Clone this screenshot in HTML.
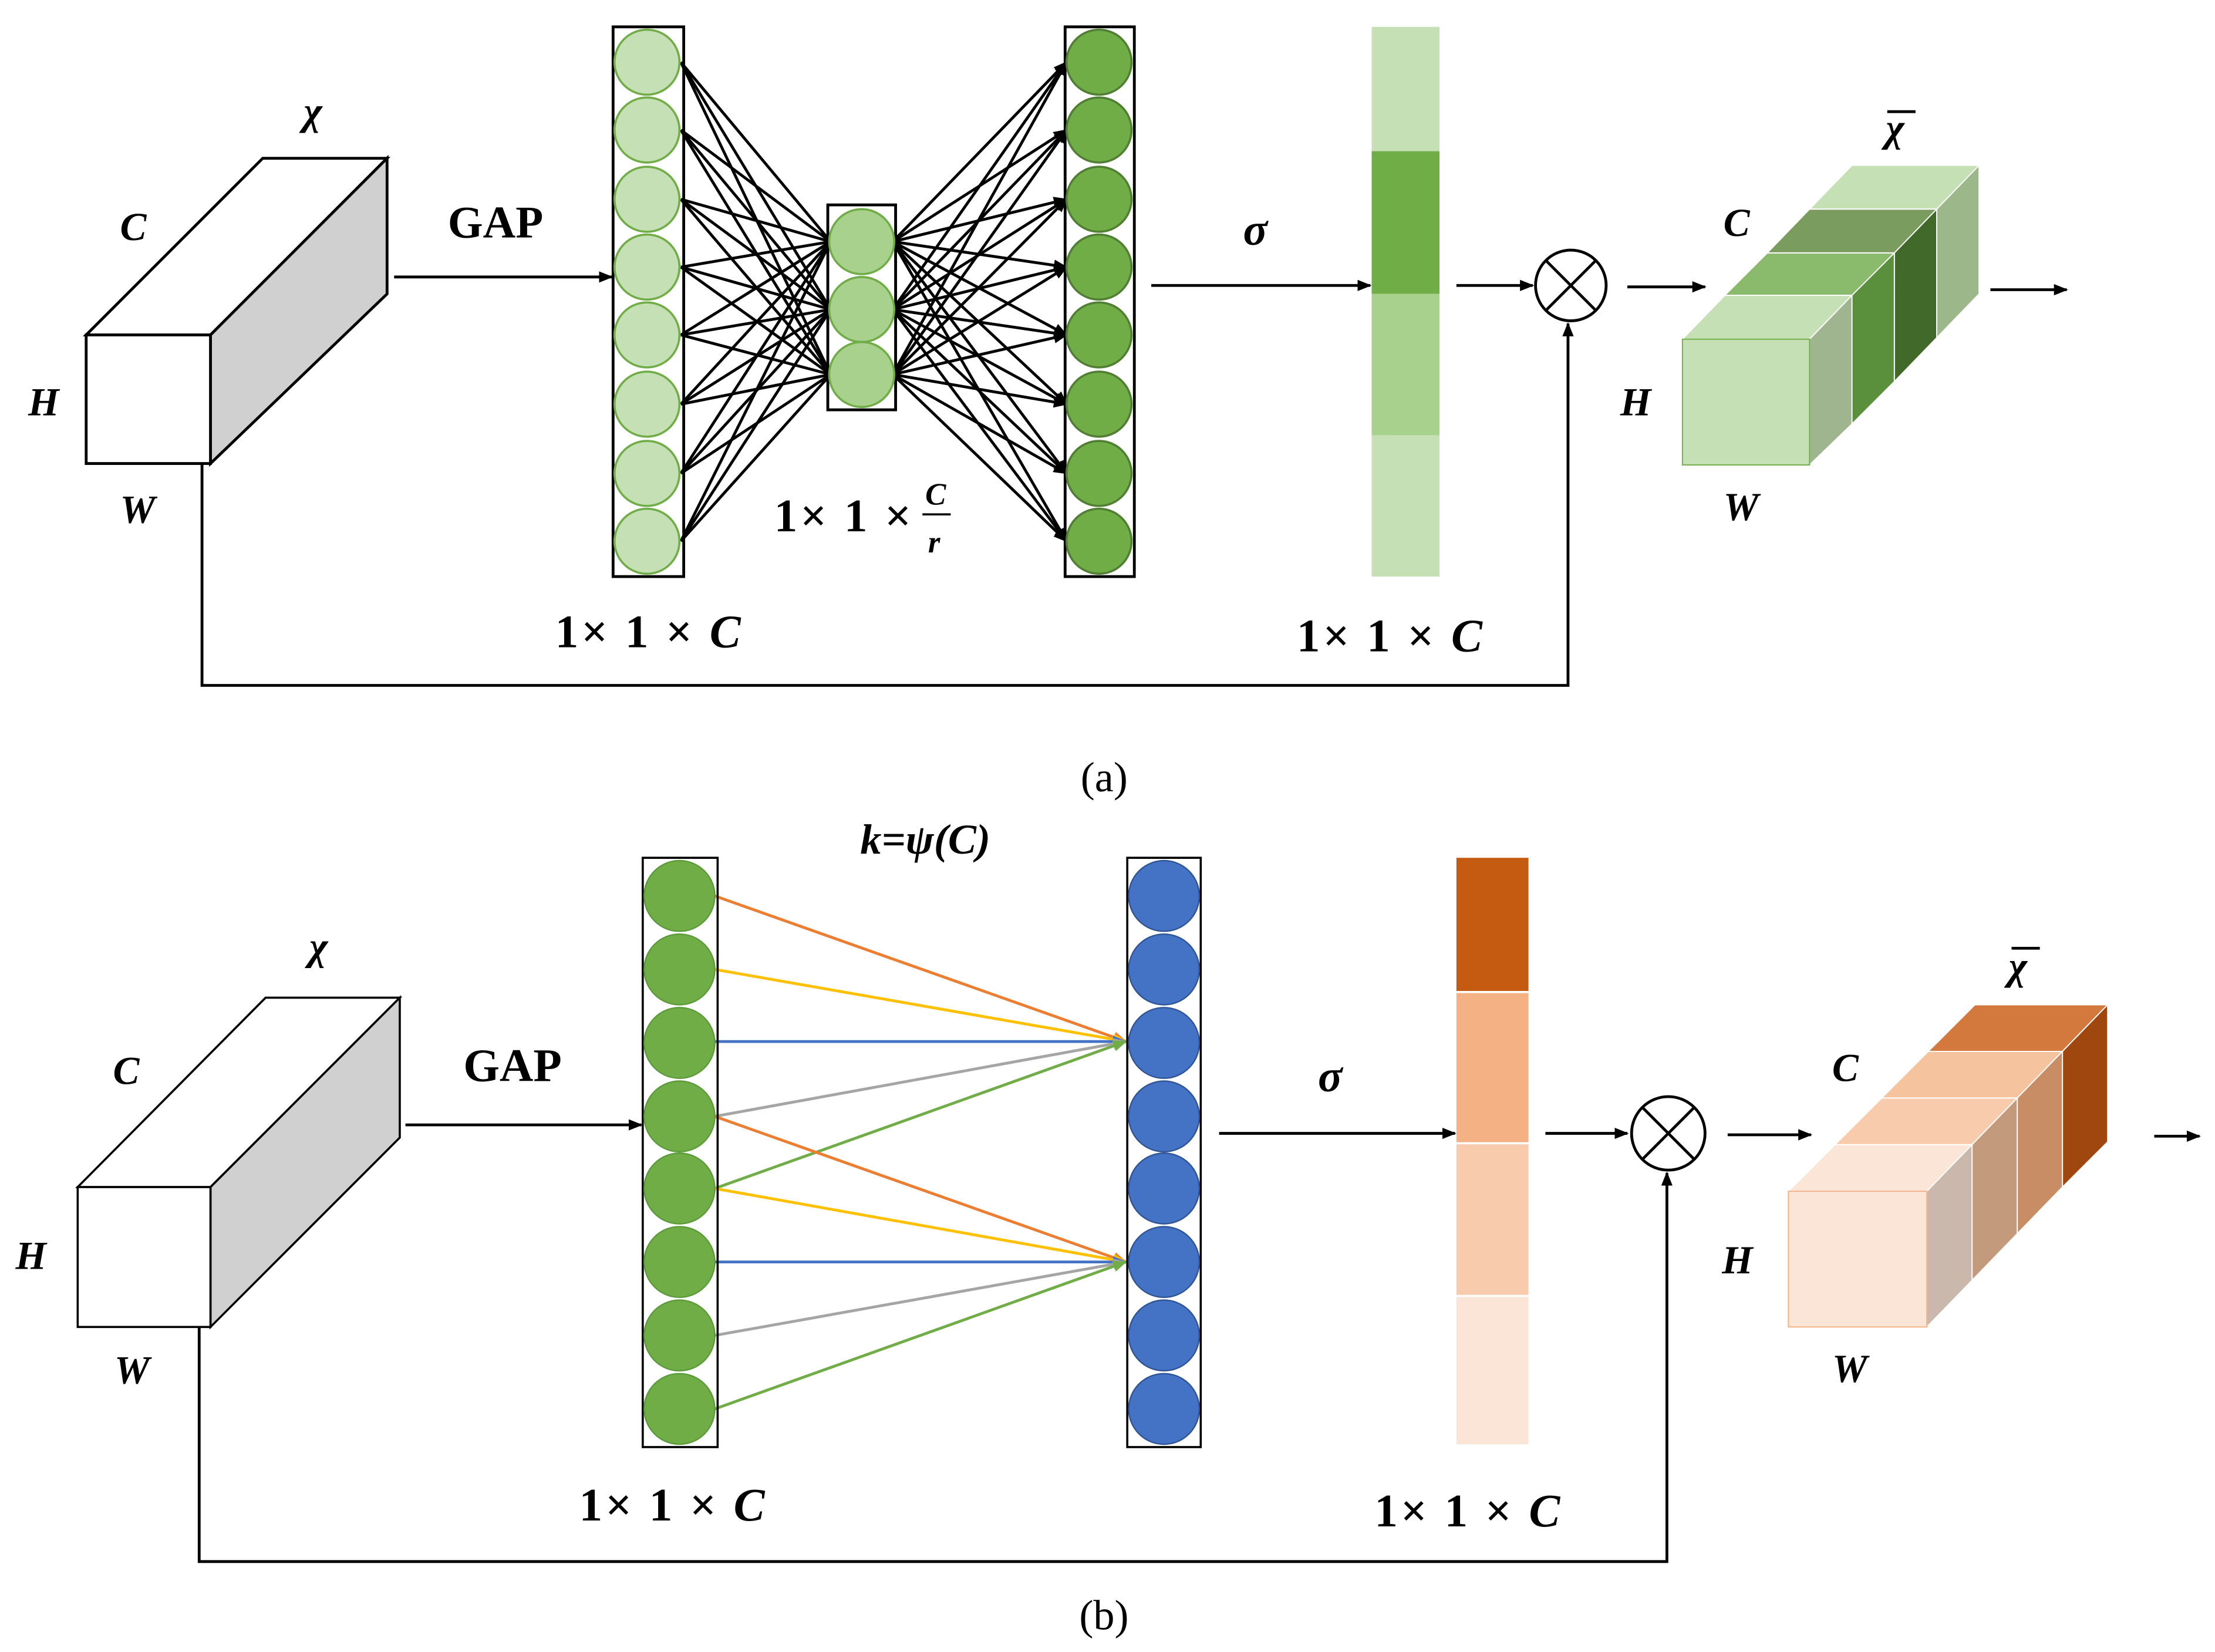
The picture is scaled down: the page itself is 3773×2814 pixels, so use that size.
<!DOCTYPE html>
<html><head><meta charset="utf-8"><style>
html,body{margin:0;padding:0;background:#fff;}
svg{display:block;width:3773px;height:2814px;}
text{font-family:"Liberation Serif",serif;font-weight:bold;fill:#000;}
.it{font-style:italic;}
</style></head><body>
<svg viewBox="0 0 1568 1169" preserveAspectRatio="none" xmlns="http://www.w3.org/2000/svg">
<defs>
<marker id="ah" markerWidth="10" markerHeight="8" refX="9" refY="4" orient="auto" markerUnits="userSpaceOnUse"><path d="M0,0 L10,4 L0,8 z" fill="#000"/></marker>
<marker id="ao" markerWidth="10" markerHeight="8" refX="9" refY="4" orient="auto" markerUnits="userSpaceOnUse"><path d="M0,0 L10,4 L0,8 z" fill="#ed7d31"/></marker>
<marker id="ay" markerWidth="10" markerHeight="8" refX="9" refY="4" orient="auto" markerUnits="userSpaceOnUse"><path d="M0,0 L10,4 L0,8 z" fill="#ffc000"/></marker>
<marker id="ab" markerWidth="10" markerHeight="8" refX="9" refY="4" orient="auto" markerUnits="userSpaceOnUse"><path d="M0,0 L10,4 L0,8 z" fill="#4472c4"/></marker>
<marker id="ag" markerWidth="10" markerHeight="8" refX="9" refY="4" orient="auto" markerUnits="userSpaceOnUse"><path d="M0,0 L10,4 L0,8 z" fill="#a5a5a5"/></marker>
<marker id="agr" markerWidth="10" markerHeight="8" refX="9" refY="4" orient="auto" markerUnits="userSpaceOnUse"><path d="M0,0 L10,4 L0,8 z" fill="#70ad47"/></marker>
</defs>

<!-- ===== (a) ===== -->
<g stroke="#000" stroke-width="2">
<polygon points="61,237 186,112 274,112 149,237" fill="#fff"/>
<polygon points="149,237 274,112 274,208 149,328" fill="#d0d0d0"/>
<rect x="61" y="237" width="88" height="91" fill="#fff"/>
</g>
<text x="215" y="88" font-size="28" class="it">χ</text>
<text x="85" y="170" font-size="28" class="it">C</text>
<text x="20" y="294" font-size="28" class="it">H</text>
<text x="85" y="370" font-size="28" class="it">W</text>
<text x="317" y="168" font-size="32">GAP</text>
<line x1="279" y1="196" x2="433" y2="196" stroke="#000" stroke-width="2" marker-end="url(#ah)"/>

<g stroke="#000" stroke-width="2">
<g>
<line x1="482" y1="44" x2="588" y2="171"/><line x1="482" y1="44" x2="588" y2="219"/><line x1="482" y1="44" x2="588" y2="265"/>
<line x1="482" y1="92" x2="588" y2="171"/><line x1="482" y1="92" x2="588" y2="219"/><line x1="482" y1="92" x2="588" y2="265"/>
<line x1="482" y1="141" x2="588" y2="171"/><line x1="482" y1="141" x2="588" y2="219"/><line x1="482" y1="141" x2="588" y2="265"/>
<line x1="482" y1="189" x2="588" y2="171"/><line x1="482" y1="189" x2="588" y2="219"/><line x1="482" y1="189" x2="588" y2="265"/>
<line x1="482" y1="237" x2="588" y2="171"/><line x1="482" y1="237" x2="588" y2="219"/><line x1="482" y1="237" x2="588" y2="265"/>
<line x1="482" y1="286" x2="588" y2="171"/><line x1="482" y1="286" x2="588" y2="219"/><line x1="482" y1="286" x2="588" y2="265"/>
<line x1="482" y1="335" x2="588" y2="171"/><line x1="482" y1="335" x2="588" y2="219"/><line x1="482" y1="335" x2="588" y2="265"/>
<line x1="482" y1="383" x2="588" y2="171"/><line x1="482" y1="383" x2="588" y2="219"/><line x1="482" y1="383" x2="588" y2="265"/>
</g>
<g marker-end="url(#ah)">
<line x1="632" y1="171" x2="755" y2="44"/><line x1="632" y1="171" x2="755" y2="92"/><line x1="632" y1="171" x2="755" y2="141"/><line x1="632" y1="171" x2="755" y2="189"/><line x1="632" y1="171" x2="755" y2="237"/><line x1="632" y1="171" x2="755" y2="286"/><line x1="632" y1="171" x2="755" y2="335"/><line x1="632" y1="171" x2="755" y2="383"/>
<line x1="632" y1="219" x2="755" y2="44"/><line x1="632" y1="219" x2="755" y2="92"/><line x1="632" y1="219" x2="755" y2="141"/><line x1="632" y1="219" x2="755" y2="189"/><line x1="632" y1="219" x2="755" y2="237"/><line x1="632" y1="219" x2="755" y2="286"/><line x1="632" y1="219" x2="755" y2="335"/><line x1="632" y1="219" x2="755" y2="383"/>
<line x1="632" y1="265" x2="755" y2="44"/><line x1="632" y1="265" x2="755" y2="92"/><line x1="632" y1="265" x2="755" y2="141"/><line x1="632" y1="265" x2="755" y2="189"/><line x1="632" y1="265" x2="755" y2="237"/><line x1="632" y1="265" x2="755" y2="286"/><line x1="632" y1="265" x2="755" y2="335"/><line x1="632" y1="265" x2="755" y2="383"/>
</g>
</g>
<rect x="434" y="19" width="50" height="389" fill="none" stroke="#000" stroke-width="2"/>
<g fill="#c5e0b4" stroke="#70ad47" stroke-width="1.5">
<circle cx="458" cy="44" r="23"/><circle cx="458" cy="92" r="23"/><circle cx="458" cy="141" r="23"/><circle cx="458" cy="189" r="23"/><circle cx="458" cy="237" r="23"/><circle cx="458" cy="286" r="23"/><circle cx="458" cy="335" r="23"/><circle cx="458" cy="383" r="23"/>
</g>
<rect x="586" y="145" width="48" height="145" fill="none" stroke="#000" stroke-width="2"/>
<g fill="#a9d18e" stroke="#70ad47" stroke-width="1.5">
<circle cx="610" cy="171" r="23"/><circle cx="610" cy="219" r="23"/><circle cx="610" cy="265" r="23"/>
</g>
<rect x="754" y="19" width="49" height="389" fill="none" stroke="#000" stroke-width="2"/>
<g fill="#70ad47" stroke="#507e32" stroke-width="1.5">
<circle cx="778" cy="44" r="23"/><circle cx="778" cy="92" r="23"/><circle cx="778" cy="141" r="23"/><circle cx="778" cy="189" r="23"/><circle cx="778" cy="237" r="23"/><circle cx="778" cy="286" r="23"/><circle cx="778" cy="335" r="23"/><circle cx="778" cy="383" r="23"/>
</g>
<text x="548" y="376" font-size="33" letter-spacing="2">1× 1 ×</text>
<text x="655" y="357" font-size="22" class="it">C</text>
<line x1="653" y1="364" x2="673" y2="364" stroke="#000" stroke-width="1.5"/>
<text x="657" y="391" font-size="22" class="it">r</text>
<text x="393" y="458" font-size="33" letter-spacing="2">1× 1 × <tspan class="it">C</tspan></text>

<text x="880" y="173" font-size="32" class="it">σ</text>
<line x1="815" y1="202" x2="970" y2="202" stroke="#000" stroke-width="2" marker-end="url(#ah)"/>
<rect x="971" y="19" width="48" height="88" fill="#c5e0b4"/>
<rect x="971" y="107" width="48" height="101" fill="#70ad47"/>
<rect x="971" y="208" width="48" height="100" fill="#a9d18e"/>
<rect x="971" y="308" width="48" height="100" fill="#c5e0b4"/>
<text x="918" y="461" font-size="33" letter-spacing="2">1× 1 × <tspan class="it">C</tspan></text>
<line x1="1031" y1="202" x2="1085" y2="202" stroke="#000" stroke-width="2" marker-end="url(#ah)"/>
<g stroke="#000" stroke-width="2" fill="#fff">
<circle cx="1112" cy="202" r="25"/>
<line x1="1094" y1="184" x2="1130" y2="220"/><line x1="1130" y1="184" x2="1094" y2="220"/>
</g>
<line x1="1152" y1="203" x2="1207" y2="203" stroke="#000" stroke-width="2" marker-end="url(#ah)"/>
<line x1="1409" y1="205" x2="1463" y2="205" stroke="#000" stroke-width="2" marker-end="url(#ah)"/>
<polyline points="143,328 143,485 1110,485 1110,229" fill="none" stroke="#000" stroke-width="2" marker-end="url(#ah)"/>

<g stroke="#fff" stroke-width="0.8">
<polygon points="1281,148 1311,117 1401,117 1371,148" fill="#c5e0b4"/>
<polygon points="1371,148 1401,117 1401,208 1371,239" fill="#9cb88a"/>
<polygon points="1251,179 1281,148 1371,148 1341,179" fill="#7a9d5f"/>
<polygon points="1341,179 1371,148 1371,239 1341,270" fill="#41692a"/>
<polygon points="1221,209 1251,179 1341,179 1311,209" fill="#8aba6b"/>
<polygon points="1311,209 1341,179 1341,270 1311,300" fill="#5a8f3c"/>
<polygon points="1191,240 1221,209 1311,209 1281,240" fill="#c5e0b4"/>
<polygon points="1281,240 1311,209 1311,300 1281,329" fill="#9fb58f"/>
<rect x="1191" y="240" width="90" height="89" fill="#c5e0b4" stroke="#70ad47"/>
</g>
<text x="1335" y="100" font-size="28" class="it">χ</text>
<line x1="1336" y1="79" x2="1356" y2="79" stroke="#000" stroke-width="2"/>
<text x="1220" y="167" font-size="28" class="it">C</text>
<text x="1147" y="294" font-size="28" class="it">H</text>
<text x="1220" y="368" font-size="28" class="it">W</text>

<text x="765" y="560" font-size="30" style="font-weight:normal">(a)</text>

<!-- ===== (b) ===== -->
<g stroke="#000" stroke-width="1.5">
<polygon points="55,840 188,706 283,706 149,840" fill="#fff"/>
<polygon points="149,840 283,706 283,805 149,939" fill="#d0d0d0"/>
<rect x="55" y="840" width="94" height="99" fill="#fff"/>
</g>
<text x="219" y="679" font-size="28" class="it">χ</text>
<text x="80" y="767" font-size="28" class="it">C</text>
<text x="11" y="898" font-size="28" class="it">H</text>
<text x="81" y="979" font-size="28" class="it">W</text>
<text x="328" y="765" font-size="33">GAP</text>
<line x1="287" y1="796" x2="454" y2="796" stroke="#000" stroke-width="2" marker-end="url(#ah)"/>

<g stroke-width="2">
<line x1="506" y1="634" x2="797" y2="737" stroke="#ed7d31" marker-end="url(#ao)"/>
<line x1="506" y1="686" x2="797" y2="737" stroke="#ffc000" marker-end="url(#ay)"/>
<line x1="506" y1="737" x2="797" y2="737" stroke="#4472c4" marker-end="url(#ab)"/>
<line x1="506" y1="790" x2="797" y2="737" stroke="#a5a5a5" marker-end="url(#ag)"/>
<line x1="506" y1="841" x2="797" y2="737" stroke="#70ad47" marker-end="url(#agr)"/>
<line x1="506" y1="790" x2="797" y2="893" stroke="#ed7d31" marker-end="url(#ao)"/>
<line x1="506" y1="841" x2="797" y2="893" stroke="#ffc000" marker-end="url(#ay)"/>
<line x1="506" y1="893" x2="797" y2="893" stroke="#4472c4" marker-end="url(#ab)"/>
<line x1="506" y1="945" x2="797" y2="893" stroke="#a5a5a5" marker-end="url(#ag)"/>
<line x1="506" y1="997" x2="797" y2="893" stroke="#70ad47" marker-end="url(#agr)"/>
</g>
<rect x="455" y="607" width="53" height="417" fill="none" stroke="#000" stroke-width="1.5"/>
<g fill="#70ad47" stroke="#5b9b3a" stroke-width="1">
<circle cx="481" cy="634" r="25"/><circle cx="481" cy="686" r="25"/><circle cx="481" cy="738" r="25"/><circle cx="481" cy="790" r="25"/><circle cx="481" cy="841" r="25"/><circle cx="481" cy="893" r="25"/><circle cx="481" cy="945" r="25"/><circle cx="481" cy="997" r="25"/>
</g>
<rect x="798" y="607" width="52" height="417" fill="none" stroke="#000" stroke-width="1.5"/>
<g fill="#4472c4" stroke="#2f5597" stroke-width="1">
<circle cx="824" cy="634" r="25"/><circle cx="824" cy="686" r="25"/><circle cx="824" cy="738" r="25"/><circle cx="824" cy="790" r="25"/><circle cx="824" cy="841" r="25"/><circle cx="824" cy="893" r="25"/><circle cx="824" cy="945" r="25"/><circle cx="824" cy="997" r="25"/>
</g>
<text x="609" y="604" font-size="30" class="it">k=ψ(C)</text>
<text x="410" y="1076" font-size="33" letter-spacing="2">1× 1 × <tspan class="it">C</tspan></text>

<text x="933" y="772" font-size="32" class="it">σ</text>
<line x1="863" y1="802" x2="1030" y2="802" stroke="#000" stroke-width="2" marker-end="url(#ah)"/>
<rect x="1031" y="607" width="51" height="95" fill="#c55a11"/>
<rect x="1031" y="702" width="51" height="107" fill="#f4b183"/>
<rect x="1031" y="809" width="51" height="108" fill="#f8cbad"/>
<rect x="1031" y="917" width="51" height="105" fill="#fbe5d6"/>
<line x1="1031" y1="702" x2="1082" y2="702" stroke="#fff" stroke-width="1.5"/>
<line x1="1031" y1="809" x2="1082" y2="809" stroke="#fff" stroke-width="1.5"/>
<line x1="1031" y1="917" x2="1082" y2="917" stroke="#fff" stroke-width="1.5"/>
<text x="973" y="1080" font-size="33" letter-spacing="2">1× 1 × <tspan class="it">C</tspan></text>
<line x1="1094" y1="802" x2="1152" y2="802" stroke="#000" stroke-width="2" marker-end="url(#ah)"/>
<g stroke="#000" stroke-width="2" fill="#fff">
<circle cx="1181" cy="802" r="26"/>
<line x1="1163" y1="784" x2="1199" y2="820"/><line x1="1199" y1="784" x2="1163" y2="820"/>
</g>
<line x1="1223" y1="803" x2="1282" y2="803" stroke="#000" stroke-width="2" marker-end="url(#ah)"/>
<line x1="1525" y1="804" x2="1557" y2="804" stroke="#000" stroke-width="2" marker-end="url(#ah)"/>
<polyline points="141,939 141,1105 1180,1105 1180,830" fill="none" stroke="#000" stroke-width="2" marker-end="url(#ah)"/>

<g stroke="#fff" stroke-width="0.8">
<polygon points="1365,744 1398,711 1492,711 1460,744" fill="#d4793e"/>
<polygon points="1460,744 1492,711 1492,808 1460,840" fill="#a0460f"/>
<polygon points="1332,777 1365,744 1460,744 1428,777" fill="#f5c39e"/>
<polygon points="1428,777 1460,744 1460,840 1428,873" fill="#c88d65"/>
<polygon points="1299,810 1332,777 1428,777 1396,810" fill="#f8cbad"/>
<polygon points="1396,810 1428,777 1428,873 1396,906" fill="#c49a7c"/>
<polygon points="1266,843 1299,810 1396,810 1364,843" fill="#fbe5d6"/>
<polygon points="1364,843 1396,810 1396,906 1364,939" fill="#c9b8ab"/>
<rect x="1266" y="843" width="98" height="96" fill="#fbe5d6" stroke="#f4b183"/>
</g>
<text x="1422" y="693" font-size="28" class="it">χ</text>
<line x1="1424" y1="671" x2="1444" y2="671" stroke="#000" stroke-width="2"/>
<text x="1297" y="765" font-size="28" class="it">C</text>
<text x="1219" y="901" font-size="28" class="it">H</text>
<text x="1297" y="978" font-size="28" class="it">W</text>

<text x="764" y="1153" font-size="30" style="font-weight:normal">(b)</text>
</svg>
</body></html>
